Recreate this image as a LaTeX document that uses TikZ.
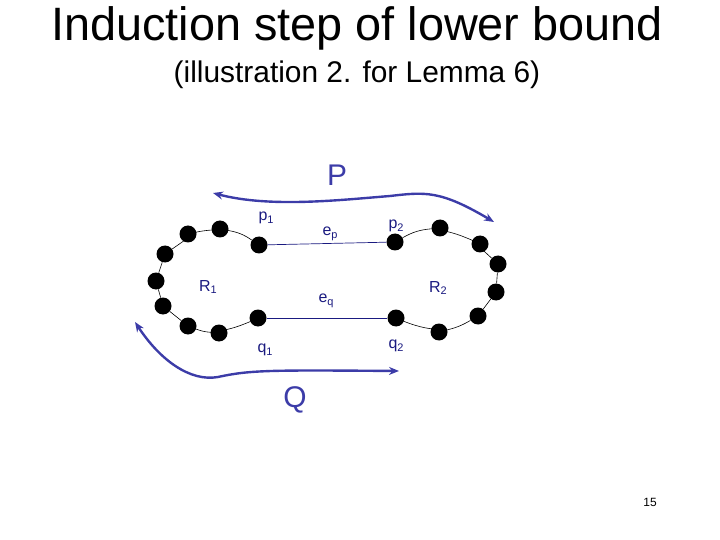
\documentclass[tikz,border=0pt]{standalone}
\usepackage{fontspec}
\setmainfont{Liberation Sans}
\usetikzlibrary{arrows.meta}
\definecolor{lab}{HTML}{1A1A80}
\definecolor{arr}{HTML}{3C3CA8}
\newcommand{\sbs}[1]{\raisebox{-0.35ex}{\fontsize{11}{12}\selectfont #1}}
\begin{document}
\begin{tikzpicture}[x=1bp,y=-1bp,
  dot/.style={circle,fill=black,inner sep=0pt,minimum size=17bp},
  lbl/.style={text=lab,font=\fontsize{16}{18}\selectfont},
  arrw/.style={draw=arr,line width=2.4pt},
  ring/.style={draw=black,line width=0.6pt},
  edge/.style={draw=lab,line width=0.7pt}]
\useasboundingbox (0,0) rectangle (720,540);
\node[font=\fontsize{47}{52}\selectfont] (title) at (357,28) {Induction step of lower bound};
\node[font=\fontsize{30}{34}\selectfont] (sub) at (357,75) {(illustration 2. for Lemma 6)};
\node[font=\fontsize{12}{14}\selectfont\rmfamily] (pg) at (650,502) {15};
% left ring
\node[dot] (p1) at (259,245) {};
\node[dot] (a1) at (220,229) {};
\node[dot] (a2) at (188,234) {};
\node[dot] (a3) at (165,254) {};
\node[dot] (a4) at (156,281) {};
\node[dot] (a5) at (163,306) {};
\node[dot] (a6) at (188,326) {};
\node[dot] (a7) at (219,333) {};
\node[dot] (q1) at (258,318) {};
\draw[ring] (p1) to[bend right=12] (a1) to[bend right=8] (a2) -- (a3) -- (a4) -- (a5) -- (a6) to[bend right=8] (a7) to[bend right=8] (q1);
% right ring
\node[dot] (p2) at (395,242) {};
\node[dot] (b1) at (440,228) {};
\node[dot] (b2) at (480,244) {};
\node[dot] (b3) at (498,264) {};
\node[dot] (b4) at (496,292) {};
\node[dot] (b5) at (478,316) {};
\node[dot] (b6) at (439,332) {};
\node[dot] (q2) at (396,318) {};
\draw[ring] (p2) to[bend left=12] (b1) to[bend left=8] (b2) -- (b3) -- (b4) -- (b5) to[bend left=8] (b6) to[bend left=10] (q2);
\draw[edge] (p1) -- (p2);
\draw[edge] (q1) -- (q2);
% labels
\node[lbl] (lp1) at (266,218) {p\sbs{1}};
\node[lbl] (lep) at (330,234) {e\sbs{p}};
\node[lbl] (lp2) at (396,226) {p\sbs{2}};
\node[lbl] (lr1) at (208,287) {R\sbs{1}};
\node[lbl] (leq) at (326,301) {e\sbs{q}};
\node[lbl] (lr2) at (438,288) {R\sbs{2}};
\node[lbl] (lq1) at (265,350) {q\sbs{1}};
\node[lbl] (lq2) at (396,346) {q\sbs{2}};
\node[text=arr,font=\fontsize{30}{34}\selectfont] (P) at (337,175) {P};
\node[text=arr,font=\fontsize{30}{34}\selectfont] (Q) at (295,400) {Q};
% arrows
\coordinate (pl) at (213,193);
\coordinate (pr) at (494,222);
\coordinate (ql) at (135,322);
\coordinate (qr) at (399,371);
\draw[arrw,{Stealth[length=10pt,width=8pt]}-{Stealth[length=10pt,width=8pt]}] (pl) .. controls (270,208) and (340,200) .. (390,196) .. controls (425,192) and (440,190) .. (pr);
\draw[arrw,{Stealth[length=10pt,width=8pt]}-{Stealth[length=10pt,width=8pt]}] (ql) .. controls (160,360) and (190,382) .. (218,377) .. controls (250,370) and (270,370) .. (qr);
\end{tikzpicture}
\end{document}
